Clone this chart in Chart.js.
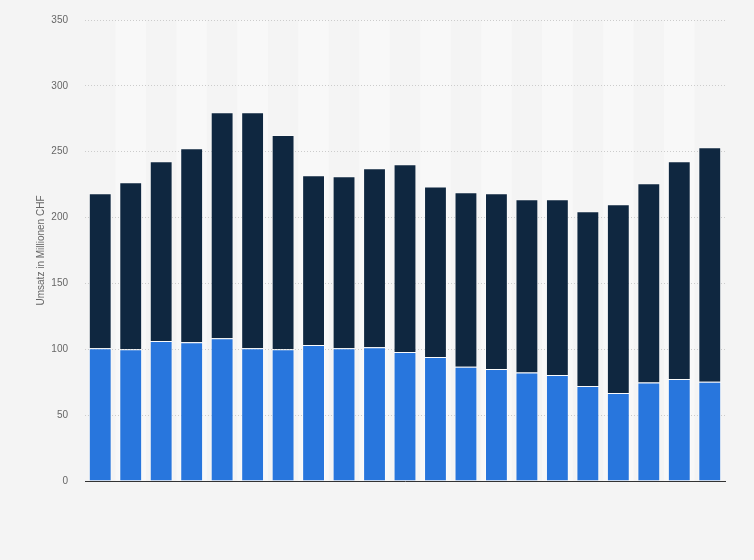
<!DOCTYPE html>
<html>
<head>
<meta charset="utf-8">
<script src="https://cdn.jsdelivr.net/npm/chart.js@4.4.1/dist/chart.umd.min.js"></script>
<style>
  html, body { margin: 0; padding: 0; background: #f4f4f4; }
  #wrap { width: 754px; height: 560px; }
</style>
</head>
<body>
<div id="wrap"><canvas id="umsatzchart"></canvas></div>
<script>
// categories (years, not shown on the axis)
const years = ["2001","2002","2003","2004","2005","2006","2007","2008","2009","2010","2011",
               "2012","2013","2014","2015","2016","2017","2018","2019","2020","2021"];

// lower (blue) segment
const lowerValues = [100.7, 100, 106.3, 105.3, 108.3, 100.7, 100, 103.3, 100.7, 101.5, 97.9,
                     94.1, 86.8, 85, 82.3, 80.5, 72.1, 66.8, 74.7, 77.5, 75.4];

// upper (dark) segment
const upperValues = [117.7, 126.8, 136.4, 147.3, 171.6, 179.2, 162.7, 128.8, 130.6, 135.9, 142.5,
                     129.4, 132.4, 133.4, 131.6, 133.4, 132.7, 143.3, 151.3, 165.2, 178.0];

const yTicks = [0, 50, 100, 150, 200, 250, 300, 350];

// page background + alternating column stripes
const stripes = {
  id: 'stripes',
  beforeDraw(chart) {
    const ctx = chart.ctx;
    ctx.save();
    ctx.fillStyle = '#f4f4f4';
    ctx.fillRect(0, 0, chart.width, chart.height);
    const area = chart.chartArea;
    const x = chart.scales.x;
    const step = (area.right - area.left) / years.length;
    ctx.fillStyle = '#f8f8f8';
    years.forEach((y, i) => {
      if (i % 2 === 1) {
        const c = x.getPixelForValue(i);
        ctx.fillRect(c - step / 2, area.top, step, area.bottom - area.top);
      }
    });
    ctx.restore();
  }
};

const umsatzchart = document.getElementById('umsatzchart');

new Chart(umsatzchart, {
  type: 'bar',
  data: {
    labels: years,
    datasets: [
      {
        label: 'Segment 1',
        data: lowerValues,
        backgroundColor: '#2876dd',
        borderColor: 'rgba(255,255,255,0.55)',
        borderWidth: 1,
        barPercentage: 0.75,
        categoryPercentage: 1
      },
      {
        label: 'Segment 2',
        data: upperValues,
        backgroundColor: '#0f2740',
        borderColor: 'rgba(255,255,255,0.4)',
        borderWidth: 1,
        barPercentage: 0.75,
        categoryPercentage: 1
      }
    ]
  },
  options: {
    responsive: true,
    maintainAspectRatio: false,
    animation: false,
    events: [],
    layout: { autoPadding: false, padding: { left: 35, right: 29, top: 20, bottom: 79 } },
    plugins: {
      legend: { display: false },
      tooltip: { enabled: false }
    },
    scales: {
      x: {
        stacked: true,
        grid: { display: false },
        border: { display: true, color: '#333333', width: 1 },
        ticks: { display: false },
        afterFit(scale) { scale.height = 0; }
      },
      y: {
        stacked: true,
        min: 0,
        max: 350,
        afterBuildTicks(scale) { scale.ticks = yTicks.map(v => ({ value: v })); },
        afterFit(scale) {
          scale.width = 50;
          // tick padding would otherwise push the plot down
          scale.paddingTop = 0;
          scale.paddingBottom = 0;
        },
        grid: { color: '#cccccc', drawTicks: false, lineWidth: 1 },
        border: { display: false, dash: [1, 2] },
        ticks: {
          padding: 17,
          color: '#666666',
          font: { family: 'Liberation Sans', size: 10 }
        },
        title: {
          display: true,
          text: 'Umsatz in Millionen CHF',
          color: '#666666',
          font: { family: 'Liberation Sans', size: 10 },
          padding: { top: 0, bottom: 0 }
        }
      }
    }
  },
  plugins: [stripes]
});
</script>
</body>
</html>
